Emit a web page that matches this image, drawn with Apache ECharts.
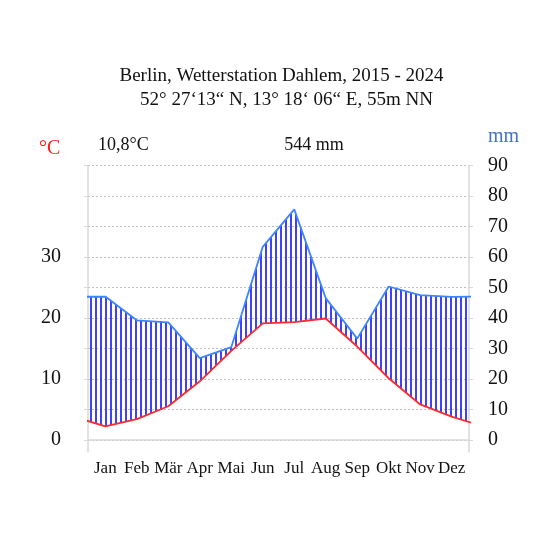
<!DOCTYPE html>
<html>
<head>
<meta charset="utf-8">
<script src="https://cdn.jsdelivr.net/npm/echarts@6/dist/echarts.min.js"></script>
<style>
html,body{margin:0;padding:0;background:#fff;}
#chart{width:560px;height:560px;}
</style>
</head>
<body>
<div id="chart"></div>
<script>
// ---- data ----
const months = ['Jan','Feb','Mär','Apr','Mai','Jun','Jul','Aug','Sep','Okt','Nov','Dez'];
const temperature = [2.2, 3.4, 5.5, 9.6, 14.6, 19.1, 19.3, 19.9, 15.3, 10.1, 5.8, 3.8];
const precipitation = [47.0, 39.2, 38.5, 26.8, 30.4, 63.3, 75.6, 46.5, 33.2, 50.3, 47.5, 46.9];
const tempTicks = [0, 10, 20, 30];
const precipTicks = [0, 10, 20, 30, 40, 50, 60, 70, 80, 90];
const tempMinorTicks = [0, 5, 10, 15, 20, 25, 30, 35, 40, 45];
const titleLine1 = 'Berlin, Wetterstation Dahlem, 2015 - 2024';
const titleLine2 = '52° 27‘13“ N, 13° 18‘ 06“ E, 55m NN';
const meanTempText = '10,8°C';
const sumPrecipText = '544 mm';

// ---- build wrapped series (Dez before Jan, Jan after Dez) ----
function wrap(arr, f) {
  const out = [[0, f(arr[11], 11)]];
  arr.forEach((v, i) => out.push([i + 1, f(v, i)]));
  out.push([13, f(arr[0], 0)]);
  return out;
}
const tempData = wrap(temperature, v => v);
const precipData = wrap(precipitation, v => v);
const tempAsMm = wrap(temperature, v => v * 2); // Walter-Lieth scale: 10 °C = 20 mm

// hatch pattern
const pc = document.createElement('canvas');
pc.width = 5; pc.height = 8;
const pctx = pc.getContext('2d');
pctx.fillStyle = 'rgba(30,30,255,0.85)';
pctx.fillRect(0, 0, 2, 8);

const FONT = 'Liberation Serif';
const txt = (size, color) => ({fontFamily: FONT, fontSize: size, fontWeight: 'normal', color: color});
const chart = echarts.init(document.getElementById('chart'), null, {renderer: 'canvas'});
chart.setOption({
  animation: false,
  backgroundColor: '#fff',
  textStyle: {fontFamily: FONT},
  title: [
    {text: titleLine1, left: 281.5, top: 67, textAlign: 'center', padding: 0, textStyle: txt(19, '#111')},
    {text: titleLine2, left: 286.5, top: 91, textAlign: 'center', padding: 0, textStyle: txt(19, '#111')},
    {text: '°C', left: 39, top: 139, padding: 0, textStyle: txt(20, '#ff1a1a')},
    {text: meanTempText, left: 98, top: 136, padding: 0, textStyle: txt(18, '#111')},
    {text: sumPrecipText, left: 314, top: 136, textAlign: 'center', padding: 0, textStyle: txt(18, '#111')},
    {text: 'mm', left: 488, top: 127, padding: 0, textStyle: txt(20, '#4472c4')}
  ],
  grid: {left: 88, right: 91, top: 165.5, bottom: 108, containLabel: false},
  xAxis: {
    type: 'value', min: 0.45, max: 12.55,
    axisLine: {show: true, onZero: true, lineStyle: {color: '#d9d9d9', width: 1.5}},
    axisTick: {show: false},
    splitLine: {show: false},
    axisLabel: {
      customValues: months.map((m, i) => i + 1),
      formatter: v => months[Math.round(v) - 1] || '',
      fontFamily: FONT, fontSize: 17, color: '#111', margin: 8
    }
  },
  yAxis: [
    {
      type: 'value', position: 'left', min: -2, max: 45,
      axisLine: {show: true, lineStyle: {color: '#d9d9d9', width: 1.5}},
      axisTick: {show: true, inside: false, length: 4, customValues: tempMinorTicks,
                 lineStyle: {color: '#d9d9d9'}},
      axisLabel: {customValues: tempTicks, fontFamily: FONT, fontSize: 20, color: '#111', margin: 27},
      splitLine: {show: false}
    },
    {
      type: 'value', position: 'right', min: -4, max: 90,
      axisLine: {show: true, lineStyle: {color: '#d9d9d9', width: 1.5}},
      axisTick: {show: true, inside: false, length: 4, customValues: precipTicks,
                 lineStyle: {color: '#d9d9d9'}},
      axisLabel: {customValues: precipTicks, fontFamily: FONT, fontSize: 20, color: '#111', margin: 19},
      splitLine: {show: true, lineStyle: {color: '#bfbfbf', type: [2, 2], width: 1}}
    }
  ],
  series: [
    {
      name: 'humid', type: 'custom', coordinateSystem: 'cartesian2d', yAxisIndex: 1,
      clip: true, silent: true, z: 1,
      data: [[precipData[0][0], precipData[0][1]]],
      encode: {x: 0, y: 1},
      renderItem: function (params, api) {
        const pts = [];
        precipData.forEach(d => pts.push(api.coord(d)));
        for (let i = tempAsMm.length - 1; i >= 0; i--) pts.push(api.coord(tempAsMm[i]));
        return {
          type: 'polygon',
          shape: {points: pts},
          style: {fill: {image: pc, repeat: 'repeat'}, stroke: null}
        };
      }
    },
    {name: 'Niederschlag', type: 'line', yAxisIndex: 1, data: precipData,
     symbol: 'none', lineStyle: {color: '#3d85ff', width: 1.8}, z: 3},
    {name: 'Temperatur', type: 'line', yAxisIndex: 0, data: tempData,
     symbol: 'none', lineStyle: {color: '#ff2a2a', width: 1.8}, z: 4}
  ]
});
</script>
</body>
</html>
